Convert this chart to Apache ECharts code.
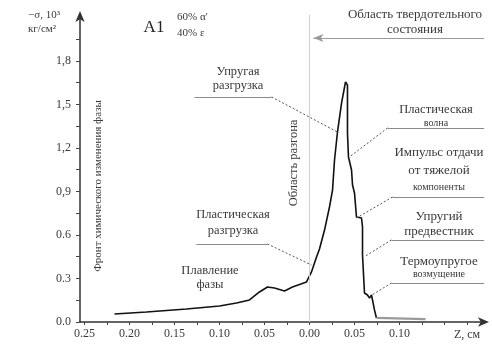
<!DOCTYPE html>
<html>
<head>
<meta charset="utf-8">
<script src="https://cdn.jsdelivr.net/npm/echarts@6/dist/echarts.min.js"></script>
<style>
  html, body { margin: 0; padding: 0; background: #fff; }
  #c { width: 492px; height: 347px; }
</style>
</head>
<body>
<div id="c"></div>
<script>
// Stress profile -σ along Z
const zValues = [
  -0.2167, -0.1811, -0.1367, -0.1000, -0.0811, -0.0667, -0.0556, -0.0467, -0.0389,
  -0.0278, -0.0189, -0.0033, 0.0022, 0.0078, 0.0111, 0.0167, 0.0222, 0.0256, 0.0278,
  0.0311, 0.0356, 0.0400, 0.0422, 0.0422, 0.0433, 0.0467, 0.0478, 0.0500, 0.0522,
  0.0578, 0.0589, 0.0589, 0.0611, 0.0644, 0.0667, 0.0689, 0.0722, 0.0744
];
const sigmaValues = [
  0.055, 0.069, 0.090, 0.110, 0.131, 0.152, 0.207, 0.241, 0.234,
  0.214, 0.241, 0.276, 0.345, 0.448, 0.503, 0.634, 0.793, 0.910, 1.117,
  1.310, 1.510, 1.655, 1.634, 1.303, 1.138, 1.048, 0.945, 0.890, 0.724,
  0.717, 0.655, 0.462, 0.200, 0.186, 0.166, 0.186, 0.083, 0.028
];
// unloaded tail beyond the front
const tailZ = [0.0744, 0.1289];
const tailSigma = [0.028, 0.020];

const xTickValues = [-0.25, -0.20, -0.15, -0.10, -0.05, 0.00, 0.05, 0.10];
const xTickLabels = ['0.25', '0.20', '0.15', '0.10', '0.05', '0.00', '0.05', '0.10'];
const yTickValues = [0, 0.3, 0.6, 0.9, 1.2, 1.5, 1.8];
const yTickLabels = ['0.0', '0.3', '0.6', '0,9', '1,2', '1,5', '1,8'];

// annotation callouts: underline segment and dashed leader to the curve
const underlines = [
  [[-0.1278, 1.552], [-0.0422, 1.552]],
  [[0.0867, 1.338], [0.1940, 1.338]],
  [[0.0922, 0.862], [0.1940, 0.862]],
  [[0.0911, 0.566], [0.1940, 0.566]],
  [[0.0911, 0.269], [0.1940, 0.269]],
  [[-0.1256, 0.538], [-0.0467, 0.538]]
];
const leaders = [
  [[-0.0422, 1.552], [0.0311, 1.310]],
  [[0.0867, 1.338], [0.0444, 1.138]],
  [[0.0922, 0.862], [0.0522, 0.717]],
  [[0.0911, 0.566], [0.0622, 0.455]],
  [[0.0911, 0.269], [0.0656, 0.172]],
  [[-0.0467, 0.538], [0.0022, 0.393]]
];
const solidArrow = [[0.1940, 1.959], [0.0044, 1.959]];

const FONT = '"Liberation Serif", "DejaVu Serif", serif';
const TXT = '#3a3a3a';

function pick(values, labels, v) {
  for (let i = 0; i < values.length; i++) {
    if (Math.abs(values[i] - v) < 1e-6) return labels[i];
  }
  return '';
}
function range(a, b, step) {
  const out = [];
  for (let v = a; v <= b + 1e-9; v += step) out.push(Math.round(v * 1000) / 1000);
  return out;
}

const curve = zValues.map((z, i) => [z, sigmaValues[i]]);
const tail = tailZ.map((z, i) => [z, tailSigma[i]]);

const markLines = [];
underlines.forEach(seg => markLines.push([
  { coord: seg[0], lineStyle: { color: '#8a8a8a', width: 1, type: 'solid' } },
  { coord: seg[1] }
]));
leaders.forEach(seg => markLines.push([
  { coord: seg[0], lineStyle: { color: '#555', width: 1, type: [2, 2] } },
  { coord: seg[1] }
]));
markLines.push([
  { coord: solidArrow[0], symbol: 'none', lineStyle: { color: '#999', width: 1.2, type: 'solid' } },
  { coord: solidArrow[1], symbol: 'arrow', symbolSize: [6, 10] }
]);
markLines.push({ xAxis: 0, lineStyle: { color: '#d0d0d0', width: 1, type: 'solid' } });

function txt(text, x, y, size, opts) {
  return Object.assign({
    type: 'text',
    x: x, y: y,
    style: Object.assign({
      text: text,
      font: size + 'px ' + FONT,
      fill: TXT,
      textAlign: 'center',
      textVerticalAlign: 'middle'
    }, (opts && opts.style) || {})
  }, (opts && opts.el) || {});
}

const chart = echarts.init(document.getElementById('c'), null, { renderer: 'canvas' });
chart.setOption({
  animation: false,
  backgroundColor: '#fff',
  grid: { left: 80, right: 7, top: 15, bottom: 25, containLabel: false },
  xAxis: {
    type: 'value',
    min: -0.255, max: 0.195,
    axisLine: { onZero: false, lineStyle: { color: '#333', width: 1.5 }, symbol: ['none', 'arrow'], symbolSize: [7, 11], symbolOffset: [0, 4] },
    axisTick: { show: true, length: 3, inside: false, lineStyle: { color: '#444' }, customValues: range(-0.25, 0.175, 0.025) },
    axisLabel: {
      customValues: xTickValues,
      formatter: v => pick(xTickValues, xTickLabels, v),
      color: TXT, fontFamily: FONT, fontSize: 12, margin: 6
    },
    splitLine: { show: false }
  },
  yAxis: {
    type: 'value',
    min: 0, max: 2.117,
    axisLine: { show: true, onZero: false, lineStyle: { color: '#333', width: 1.5 }, symbol: ['none', 'arrow'], symbolSize: [7, 11], symbolOffset: [0, 4] },
    axisTick: { show: true, length: 4, lineStyle: { color: '#444' }, customValues: range(0, 1.95, 0.15) },
    axisLabel: {
      customValues: yTickValues,
      formatter: v => pick(yTickValues, yTickLabels, v),
      color: TXT, fontFamily: FONT, fontSize: 12, margin: 9
    },
    splitLine: { show: false }
  },
  series: [
    {
      type: 'line',
      data: curve,
      symbol: 'none',
      clip: false,
      lineStyle: { color: '#111', width: 1.6 },
      markLine: { silent: true, symbol: 'none', label: { show: false }, data: markLines }
    },
    {
      type: 'line',
      data: tail,
      symbol: 'none',
      lineStyle: { color: '#9a9a9a', width: 2.2 }
    }
  ],
  graphic: [
    txt('−σ, 10³', 44, 15, 11),
    txt('кг/см²', 42, 29, 11),
    txt('А1', 154, 28, 17, { style: { fill: '#222' } }),
    txt("60% α'", 199, 17, 11, { style: { textAlign: 'left' }, el: { x: 177 } }),
    txt('40% ε', 199, 33, 11, { style: { textAlign: 'left' }, el: { x: 177 } }),
    txt('Область твердотельного', 415, 15, 13),
    txt('состояния', 415, 30, 13),
    txt('Упругая', 238, 72, 12.5),
    txt('разгрузка', 238, 86, 12.5),
    txt('Пластическая', 436, 110, 12.5),
    txt('волна', 436, 123, 10),
    txt('Импульс отдачи', 439, 153, 13),
    txt('от тяжелой', 439, 171, 13),
    txt('компоненты', 439, 187, 10),
    txt('Упругий', 439, 217, 13),
    txt('предвестник', 439, 232, 13),
    txt('Термоупругое', 439, 262, 13),
    txt('возмущение', 439, 274, 10),
    txt('Пластическая', 233, 215, 12.5),
    txt('разгрузка', 233, 231, 12.5),
    txt('Плавление', 210, 271, 12.5),
    txt('фазы', 210, 285, 12.5),
    txt('Область разгона', 294, 163, 12.5, { el: { rotation: Math.PI / 2 } }),
    txt('Фронт химического изменения фазы', 98, 186, 11, { el: { rotation: Math.PI / 2 } }),
    txt('Z, см', 467, 335, 12)
  ]
});
</script>
</body>
</html>
